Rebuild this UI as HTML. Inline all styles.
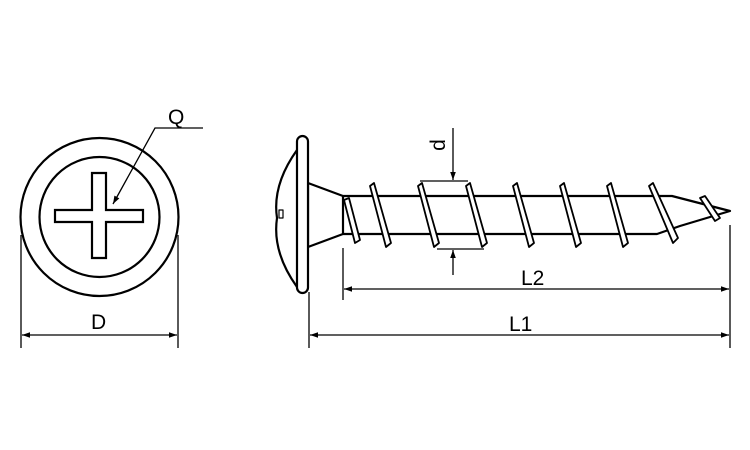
<!DOCTYPE html>
<html><head><style>body{margin:0;background:#fff}svg{display:block}</style></head><body>
<svg width="750" height="450" viewBox="0 0 750 450" xmlns="http://www.w3.org/2000/svg">
<defs>
<marker id="a" viewBox="0 0 10 10" refX="10" refY="5" markerWidth="10" markerHeight="8" markerUnits="userSpaceOnUse" orient="auto-start-reverse"><path d="M0,1.5 L10,5 L0,8.5 Z" fill="#000"/></marker>
</defs>
<g fill="none" stroke="#000" stroke-width="2.2">
<circle cx="99.5" cy="217" r="79"/>
<circle cx="99.5" cy="217" r="60"/>
<path d="M92,173 H106 V210 H143 V222 H106 V258 H92 V222 H55 V210 H92 Z"/>
</g>
<g stroke="#000" stroke-width="1.3" fill="none">
<path d="M203,128 H155 L113,204" marker-end="url(#a)"/>
<line x1="21" y1="235" x2="21" y2="348"/>
<line x1="178" y1="235" x2="178" y2="348"/>
<line x1="22" y1="335" x2="177" y2="335" marker-start="url(#a)" marker-end="url(#a)"/>
<line x1="309" y1="292" x2="309" y2="348"/>
<line x1="343" y1="248" x2="343" y2="300"/>
<line x1="730" y1="225" x2="730" y2="348"/>
<line x1="344" y1="289" x2="729" y2="289" marker-start="url(#a)" marker-end="url(#a)"/>
<line x1="310" y1="335" x2="729" y2="335" marker-start="url(#a)" marker-end="url(#a)"/>
<line x1="420" y1="181" x2="468" y2="181"/>
<line x1="437" y1="249" x2="484" y2="249"/>
<line x1="453" y1="128" x2="453" y2="180" marker-end="url(#a)"/>
<line x1="453" y1="275" x2="453" y2="250" marker-end="url(#a)"/>
</g>
<g fill="#fff" stroke="#000" stroke-width="2.2" stroke-linejoin="round">
<path d="M297,150 Q272,185 277,218 Q272,252 297,287"/>
<rect x="279" y="210" width="4" height="8" stroke-width="1.2"/>
<path d="M308,183 L343,196 H672 L730,211 L680,226 L657,234 H343 L308,247 Z"/>
<line x1="343" y1="196" x2="343" y2="234"/>
<rect x="297" y="136" width="11" height="157" rx="5.5"/>
<g stroke-width="1.8">
<path d="M344,200 L349,198 L360,240 L355,243 Z"/>
<path d="M370,186 L374,183 L391,243 L386,247 Z"/>
<path d="M418,186 L422,183 L439,243 L434,247 Z"/>
<path d="M466,186 L470,183 L487,243 L482,247 Z"/>
<path d="M513,186 L517,183 L534,243 L529,247 Z"/>
<path d="M560,186 L564,183 L581,243 L576,247 Z"/>
<path d="M607,186 L611,183 L628,243 L623,247 Z"/>
<path d="M649,186 L653,183 L678,238 L673,243 Z"/>
<path d="M700,198 L705,196 L720,218 L715,221 Z"/>
</g>
</g>
<g font-family="Liberation Sans, sans-serif" font-size="21" fill="#000">
<text x="168" y="124">Q</text>
<text x="91" y="329">D</text>
<text x="521" y="285">L2</text>
<text x="509" y="331">L1</text>
<text transform="translate(445,145) rotate(-90)" text-anchor="middle">d</text>
</g>
</svg>
</body></html>
